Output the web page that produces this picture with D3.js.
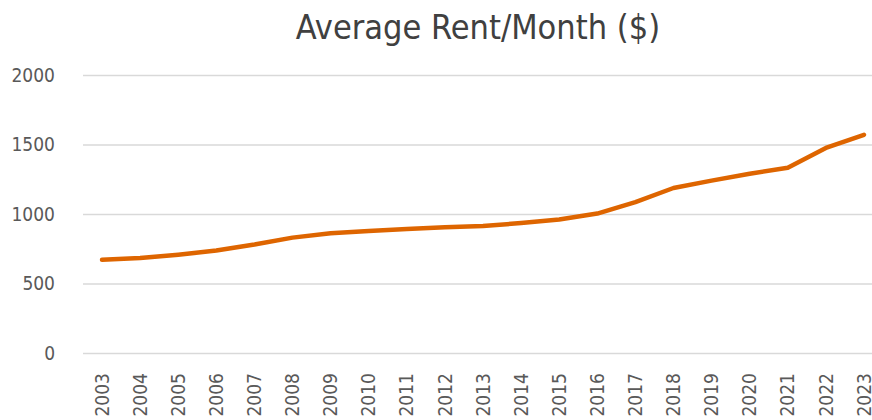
<!DOCTYPE html>
<html>
<head>
<meta charset="utf-8">
<script src="https://cdn.jsdelivr.net/npm/d3@7"></script>
<style>
  body { margin: 0; background: #fff; }
  svg { display: block; }
</style>
</head>
<body>
<svg id="chart"></svg>
<script>
// data
const years = ["2003","2004","2005","2006","2007","2008","2009","2010","2011","2012","2013",
               "2014","2015","2016","2017","2018","2019","2020","2021","2022","2023"];
const rent = [670, 683, 707, 737, 780, 830, 862, 878, 892, 904, 914,
              935, 960, 1003, 1085, 1187, 1240, 1290, 1333, 1475, 1570];
const yTicks = [0, 500, 1000, 1500, 2000];
const title = "Average Rent/Month ($)";

var width = 872, height = 420;
var margin = {top: 75, right: -11, bottom: 67, left: 83};

const svg = d3.select("#chart")
  .attr("width", width)
  .attr("height", height);

const xScale = d3.scaleBand()
  .domain(years)
  .range([margin.left, width - margin.right]);

const yScale = d3.scaleLinear()
  .domain([0, 2000])
  .range([height - margin.bottom, margin.top]);

// 그리드
svg.append("g")
  .attr("transform", "translate(" + margin.left + ",0)")
  .call(d3.axisLeft(yScale).tickValues(yTicks).tickSize(-(width - margin.left)).tickFormat(""))
  .call(g => g.select(".domain").remove())
  .selectAll(".tick line")
  .attr("stroke", "#d9d9d9")
  .attr("stroke-width", 1.3);

// y labels
svg.append("g")
  .attr("transform", "translate(" + margin.left + ",0)")
  .call(d3.axisLeft(yScale).tickValues(yTicks).tickSize(0).tickPadding(28).tickFormat(d3.format("d")))
  .call(g => g.select(".domain").remove())
  .selectAll("text")
  .attr("fill", "#595959")
  .style("font-family", "'DejaVu Sans', sans-serif")
  .style("font-stretch", "condensed")
  .style("font-size", "19px");

// x labels
svg.append("g")
  .attr("transform", "translate(0," + (height - margin.bottom) + ")")
  .call(d3.axisBottom(xScale).tickSize(0))
  .call(g => g.select(".domain").remove())
  .selectAll("text")
  .attr("transform", "rotate(-90)")
  .attr("text-anchor", "end")
  .attr("x", -20)
  .attr("y", 0)
  .attr("dy", "0.35em")
  .attr("fill", "#595959")
  .style("font-family", "'DejaVu Sans', sans-serif")
  .style("font-stretch", "condensed")
  .style("font-size", "19px");

// line
const line = d3.line()
  .x((d, i) => xScale(years[i]) + xScale.bandwidth() / 2)
  .y(d => yScale(d));

svg.append("path")
  .datum(rent)
  .attr("d", line)
  .attr("fill", "none")
  .attr("stroke", "#DE6500")
  .attr("stroke-width", 4.5)
  .attr("stroke-linecap", "round")
  .attr("stroke-linejoin", "round");

// title
svg.append("text")
  .attr("x", 478)
  .attr("y", 39)
  .attr("text-anchor", "middle")
  .attr("fill", "#404040")
  .style("font-family", "'DejaVu Sans', sans-serif")
  .style("font-stretch", "condensed")
  .style("font-size", "34px")
  .text(title);
</script>
</body>
</html>
